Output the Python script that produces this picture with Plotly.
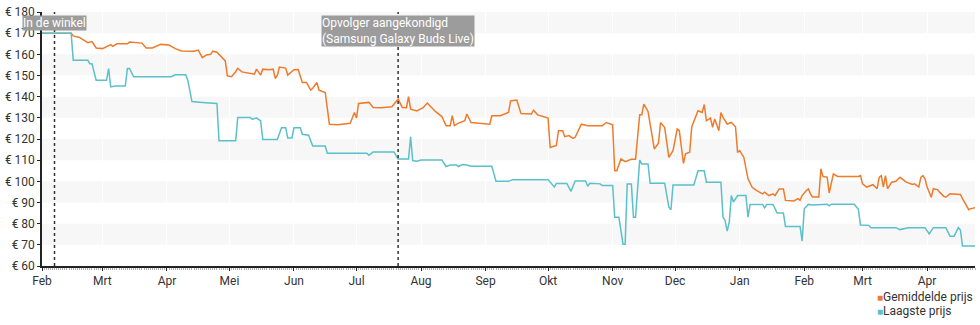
import pandas as pd
import plotly.graph_objects as go

start = pd.Timestamp("2020-02-01")

# Gemiddelde prijs: (days since 2020-02-01, price in EUR)
avg_days = [0, 14, 15, 18, 22, 24, 26, 29, 33, 34, 36, 41, 42, 48, 50, 53, 57, 61, 64, 67,
            73, 75, 77, 79, 81, 82, 84, 85, 86, 88, 89, 91, 93, 94, 96, 99, 102, 103, 105, 106,
            109, 111, 112, 113, 114, 117, 118, 121, 123, 125, 127, 129, 130, 132, 133, 136, 137, 138, 142, 148,
            150, 151, 152, 157, 159, 163, 168, 171, 173, 175, 176, 177, 180, 183, 185, 188, 189, 192, 194, 196,
            197, 198, 200, 203, 204, 206, 215, 216, 220, 224, 225, 228, 230, 235, 236, 238, 243, 244, 247, 248,
            250, 251, 253, 255, 256, 259, 262, 269, 271, 274, 275, 276, 278, 280, 283, 285, 287, 288, 289, 291,
            294, 296, 297, 299, 301, 303, 305, 306, 308, 309, 311, 312, 313, 315, 317, 318, 319, 321, 322, 323,
            325, 326, 327, 329, 331, 333, 334, 335, 337, 339, 341, 343, 346, 347, 349, 351, 352, 354, 356, 357,
            361, 363, 364, 365, 367, 368, 369, 370, 373, 374, 375, 377, 378, 380, 382, 392, 393, 394, 396, 398,
            399, 401, 402, 403, 404, 405, 406, 408, 410, 412, 415, 418, 419, 421, 422, 423, 424, 425, 427, 428,
            430, 431, 433, 434, 436, 441, 442, 445, 446, 448]
avg_price = [170, 170, 168.7, 168, 165.5, 166, 163, 162.7, 164.6, 163.8, 165, 165, 165.8, 165.3, 163, 163, 164.7, 164.4, 162.7, 161.6,
             161.5, 162, 158.4, 159.7, 160, 161.5, 161, 160, 159.2, 156.9, 149.8, 149.4, 151.8, 153.4, 151.7, 151, 150.6, 153, 150.2, 153,
             152.7, 153, 148.6, 150, 154, 153.5, 150.2, 152.7, 152.8, 146.7, 146.7, 143.1, 144, 146.7, 143.1, 142, 135, 127, 126.7, 127.4,
             132.5, 129.9, 136.8, 137.3, 134.9, 134.8, 135.2, 138.8, 134.9, 134.8, 140, 134.1, 133.3, 134.8, 137, 134.1, 132.9, 130.6, 126.3, 126.3,
             131, 126.3, 127.5, 128.6, 131.8, 127.8, 127, 131, 131, 132.5, 138, 138.4, 132, 131.8, 133.6, 131.4, 129.9, 116, 117, 123.9,
             123.9, 121.1, 121.6, 120.3, 120.8, 127, 126.3, 126.3, 127.8, 126.7, 105, 105, 110.6, 109.3, 110.4, 110.4, 131.5, 131.5, 136.5, 133,
             115.3, 118, 127.8, 125.4, 111.3, 114.5, 124.7, 124, 108.5, 113, 113.7, 125.8, 128.6, 133.3, 132.5, 136.3, 128.6, 129.9, 125.5, 129.5,
             123.9, 132.5, 130.2, 127.1, 127.8, 125.8, 113.7, 114.5, 111.3, 101.2, 97.2, 95.7, 94.1, 94.9, 93.3, 94.1, 93.3, 96.4, 96.4, 91,
             90.7, 91.8, 91, 93.3, 95.7, 96.4, 94.1, 92.6, 92.6, 105.9, 102.3, 102, 94.5, 103.5, 102.3, 102.3, 102.7, 98.8, 97.3, 98,
             98.4, 96.5, 101.9, 102.7, 97.3, 102.7, 96.5, 99.6, 100, 101.9, 99.6, 98.5, 98.8, 97.3, 101.9, 102.7, 101.2, 97.3, 92.5, 96.5,
             96.1, 94.9, 92.9, 92.5, 94.1, 93.8, 91.8, 86.6, 87.1, 87.5]

# Laagste prijs: (days since 2020-02-01, price in EUR)
low_days = [0, 14, 15, 22, 23, 24, 26, 31, 32, 33, 35, 40, 41, 42, 44, 62, 64, 69, 70, 72,
            77, 84, 85, 93, 94, 100, 101, 103, 105, 106, 113, 115, 117, 118, 120, 121, 124, 125, 128, 130,
            136, 137, 156, 157, 159, 169, 171, 176, 177, 178, 180, 182, 192, 194, 196, 199, 200, 202, 204, 206,
            216, 218, 224, 226, 243, 244, 246, 247, 252, 254, 256, 261, 262, 263, 268, 269, 274, 275, 277, 279,
            280, 281, 283, 284, 285, 287, 288, 291, 292, 299, 301, 302, 303, 313, 315, 318, 319, 326, 327, 328,
            329, 330, 331, 332, 334, 338, 339, 340, 346, 347, 348, 351, 353, 356, 357, 364, 365, 366, 368, 370,
            377, 378, 379, 390, 392, 393, 397, 398, 410, 412, 416, 424, 426, 428, 434, 436, 438, 440, 441, 442,
            448]
low_price = [170, 170, 157.2, 157.2, 155.6, 155.6, 147.8, 147.8, 153.3, 144.6, 145, 145, 153.3, 153.3, 149.4, 149.4, 150.3, 150.3, 147.8, 137.7,
             137.3, 136.8, 119.2, 119.2, 130.2, 130.2, 129.3, 130, 128.6, 119.8, 119.8, 125.3, 125.3, 120.5, 120.5, 125.3, 125.3, 122.2, 121.8, 116.7,
             116.7, 113.3, 113.3, 112.3, 113.9, 113.9, 110.6, 110.6, 121, 109.8, 109.5, 110.1, 110.1, 107, 107.7, 107.7, 107, 107.9, 107.7, 107.1,
             107.1, 100, 100, 100.8, 100.8, 99.6, 97.3, 99, 99, 95.3, 100.2, 100.2, 97.7, 99.1, 98.8, 98, 98, 83, 83, 70.3,
             70.3, 98.7, 98.7, 83, 83, 110, 108.2, 108.2, 99.1, 99.1, 87.8, 86.6, 98.3, 98.3, 105, 105, 99.6, 99.6, 83.1, 81.5,
             76.5, 80.7, 93.3, 90.2, 93.3, 93.3, 83.1, 89.1, 89.1, 87.5, 89.1, 89.1, 85, 85, 78.7, 78.7, 71.8, 87, 89.1, 88.8,
             89.2, 88.4, 89.2, 89.2, 86.8, 79.4, 79.2, 78.1, 78.1, 77.2, 78.1, 78.1, 75.2, 78.1, 78.1, 74.1, 74.1, 78.1, 77, 69.4,
             69.4]

series_names = ["Gemiddelde prijs", "Laagste prijs"]
series_colors = ["#ee7b2c", "#5bc0c9"]

event_dates = ["2020-02-07", "2020-07-21"]
event_labels = ["In de winkel", "Opvolger aangekondigd<br>(Samsung Galaxy Buds Live)"]

month_ticks = ["2020-02-01", "2020-03-01", "2020-04-01", "2020-05-01", "2020-06-01", "2020-07-01",
               "2020-08-01", "2020-09-01", "2020-10-01", "2020-11-01", "2020-12-01", "2021-01-01",
               "2021-02-01", "2021-03-01", "2021-04-01"]
month_labels = ["Feb", "Mrt", "Apr", "Mei", "Jun", "Jul", "Aug", "Sep", "Okt", "Nov", "Dec", "Jan",
                "Feb", "Mrt", "Apr"]
price_ticks = [60, 70, 80, 90, 100, 110, 120, 130, 140, 150, 160, 170, 180]
price_labels = ["€ %d" % v for v in price_ticks]

x_end = start + pd.Timedelta(days=448)

def to_dates(days):
    return [start + pd.Timedelta(days=d) for d in days]

fig = go.Figure()
for days, prices, name, color in [(avg_days, avg_price, series_names[0], series_colors[0]),
                                  (low_days, low_price, series_names[1], series_colors[1])]:
    fig.add_trace(go.Scatter(x=to_dates(days), y=prices, mode="lines", name=name,
                             line=dict(color=color, width=1.5), showlegend=False,
                             hoverinfo="x+y"))

# alternating horizontal bands
for lo in range(70, 180, 20):
    fig.add_shape(type="rect", xref="paper", x0=0, x1=1, yref="y", y0=lo, y1=lo + 10,
                  fillcolor="#f7f7f7", line_width=0, layer="below")

for d, label in zip(event_dates, event_labels):
    fig.add_shape(type="line", xref="x", x0=d, x1=d, yref="paper", y0=0, y1=1,
                  line=dict(color="#333333", width=1.5, dash="dot"))
    fig.add_annotation(x=d, xref="x", y=1, yref="paper", yanchor="top", xanchor="center",
                       yshift=-3, text=label, showarrow=False, align="left",
                       font=dict(family="Roboto", size=12, color="#ffffff"),
                       bgcolor="#9c9c9c", borderpad=0)

# legend drawn as annotations (compact spacing as in the reference)
legend_y = [-0.121, -0.176]
for name, color, ly in zip(series_names, series_colors, legend_y):
    fig.add_annotation(x=0.893, xref="paper", y=ly, yref="paper", xanchor="left", yanchor="middle",
                       showarrow=False, align="left",
                       text='<span style="color:%s;font-size:10px">■</span>%s' % (color, name),
                       font=dict(family="Roboto", size=12, color="#333333"))

fig.update_layout(
    width=980, height=325,
    margin=dict(l=40, r=5, t=10, b=59),
    plot_bgcolor="#ffffff", paper_bgcolor="#ffffff",
    font=dict(family="Roboto", size=12, color="#333333"),
    showlegend=False,
)
fig.update_xaxes(type="date", range=[start, x_end], tickvals=month_ticks, ticktext=month_labels,
                 showline=True, linecolor="#222222", linewidth=1.5, ticks="outside", ticklen=3,
                 tickcolor="#222222", showgrid=True, gridcolor="#ffffff", gridwidth=1,
                 zeroline=False,
                 minor=dict(ticks="outside", ticklen=2, dtick=86400000, tick0="2020-02-01",
                            tickcolor="#b0b0b0", showgrid=False))
fig.update_yaxes(range=[60, 180], tickvals=price_ticks, ticktext=price_labels,
                 showline=True, linecolor="#222222", linewidth=1.5, ticks="outside", ticklen=3,
                 tickcolor="#222222", showgrid=False, zeroline=False)

fig.write_html("out.html")
